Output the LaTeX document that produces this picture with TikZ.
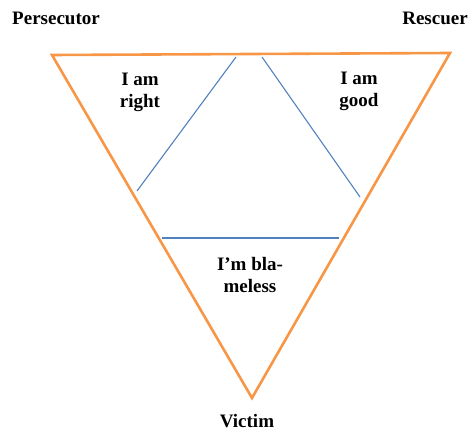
\documentclass[tikz,border=0pt]{standalone}
\usepackage{fontspec}
\setmainfont{Liberation Serif}
\usepackage{tikz}
\usetikzlibrary{calc}
\definecolor{dramaorange}{HTML}{F79646}
\definecolor{dramablue}{HTML}{4F81BD}

\begin{document}
\begin{tikzpicture}[
  x=1pt,
  y=-1pt,
  edge/.style={draw=dramaorange,line width=2.6pt,line join=miter},
  split/.style={draw=dramablue,line width=1.1pt},
  role/.style={font=\fontsize{19}{22}\selectfont\bfseries,inner sep=0pt,anchor=base},
  stance/.style={font=\fontsize{19}{22}\selectfont\bfseries,inner sep=0pt,align=center}
]
\useasboundingbox (0,0) rectangle (472,433);

% corners of the triangle
\coordinate (pers) at (52,55);
\coordinate (resc) at (450,53);
\coordinate (vict) at (252,398);

% ends of the inner lines
\coordinate (lefttop) at (236,57);
\coordinate (leftbot) at (137,191);
\coordinate (righttop) at (262,57);
\coordinate (rightbot) at (360,197);
\coordinate (midleft) at (162,238);
\coordinate (midright) at (339,238);

\node[role] (persecutor) at (56,25) {Persecutor};
\node[role] (rescuer) at (435,25) {Rescuer};
\node[role] (victim) at (247,427) {Victim};

\node[stance] (right) at (140,92) {I am\\right};
\node[stance] (good) at (359,91) {I am\\good};
\node[stance] (blameless) at (250,275) {I’m bla-\\meless};

\draw[edge] (pers) -- (resc) -- (vict) -- cycle;
\draw[split] (lefttop) -- (leftbot);
\draw[split] (righttop) -- (rightbot);
\draw[split] (midleft) -- (midright);

\end{tikzpicture}
\end{document}
